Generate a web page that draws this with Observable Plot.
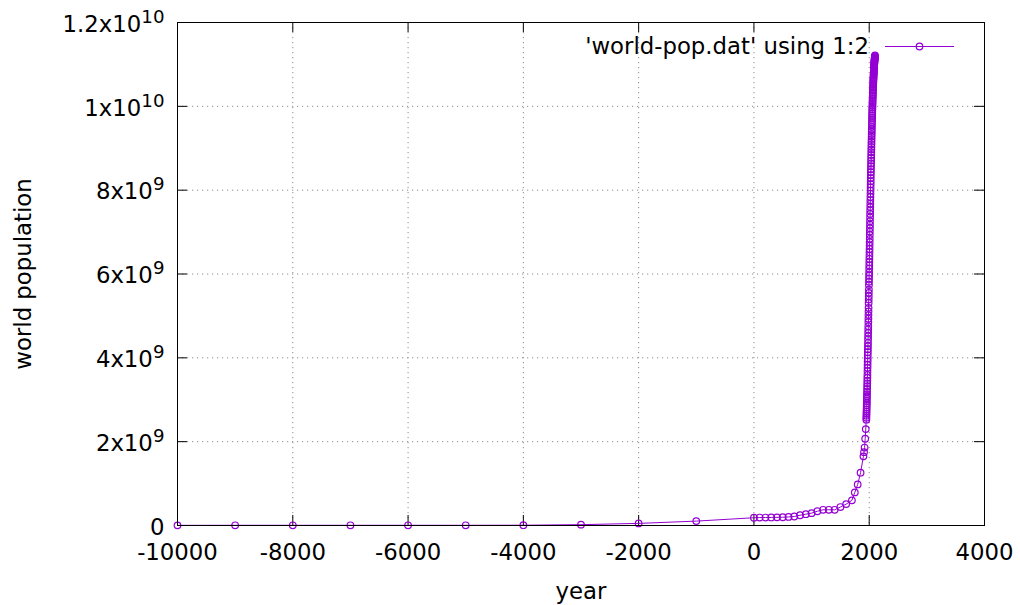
<!DOCTYPE html>
<html>
<head>
<meta charset="utf-8">
<script src="https://cdn.jsdelivr.net/npm/d3@7"></script>
<script src="https://cdn.jsdelivr.net/npm/@observablehq/plot@0.6"></script>
<style>
  body { margin: 0; background: #fff; }
  #chart svg { display: block; }
</style>
</head>
<body>
<div id="chart"></div>
<script>
// World population estimates and projections, by year.
const years = [
  -10000, -9000, -8000, -7000, -6000, -5000, -4000, -3000, -2000, -1000,
  0, 100, 200, 300, 400, 500, 600, 700, 800, 900,
  1000, 1100, 1200, 1300, 1400, 1500, 1600, 1700, 1750, 1800,
  1850, 1900, 1910, 1920, 1930, 1940,
  1950, 1951, 1952, 1953, 1954, 1955, 1956, 1957, 1958, 1959,
  1960, 1961, 1962, 1963, 1964, 1965, 1966, 1967, 1968, 1969,
  1970, 1971, 1972, 1973, 1974, 1975, 1976, 1977, 1978, 1979,
  1980, 1981, 1982, 1983, 1984, 1985, 1986, 1987, 1988, 1989,
  1990, 1991, 1992, 1993, 1994, 1995, 1996, 1997, 1998, 1999,
  2000, 2001, 2002, 2003, 2004, 2005, 2006, 2007, 2008, 2009,
  2010, 2011, 2012, 2013, 2014, 2015, 2016, 2017, 2018, 2019,
  2020, 2021, 2022, 2023, 2024, 2025, 2026, 2027, 2028, 2029,
  2030, 2031, 2032, 2033, 2034, 2035, 2036, 2037, 2038, 2039,
  2040, 2041, 2042, 2043, 2044, 2045, 2046, 2047, 2048, 2049,
  2050, 2051, 2052, 2053, 2054, 2055, 2056, 2057, 2058, 2059,
  2060, 2061, 2062, 2063, 2064, 2065, 2066, 2067, 2068, 2069,
  2070, 2071, 2072, 2073, 2074, 2075, 2076, 2077, 2078, 2079,
  2080, 2081, 2082, 2083, 2084, 2085, 2086, 2087, 2088, 2089,
  2090, 2091, 2092, 2093, 2094, 2095, 2096, 2097, 2098, 2099,
  2100
];

// Population in millions, one entry per year above.
const populationMillions = [
  4, 5, 5, 5, 5, 5, 7, 20, 50, 105,
  185, 190, 190, 192, 195, 197, 205, 215, 245, 270,
  295, 340, 375, 375, 375, 440, 510, 600, 790, 980,
  1260, 1650, 1750, 1860, 2070, 2300,
  2525, 2572, 2619, 2666, 2714, 2763, 2814, 2866, 2919, 2972,
  3029, 3081, 3135, 3196, 3259, 3323, 3390, 3456, 3523, 3592,
  3682, 3761, 3837, 3911, 3983, 4061, 4134, 4206, 4279, 4353,
  4439, 4517, 4596, 4675, 4755, 4851, 4935, 5020, 5106, 5192,
  5310, 5391, 5471, 5550, 5629, 5735, 5813, 5889, 5964, 6038,
  6127, 6204, 6281, 6358, 6436, 6520, 6598, 6677, 6757, 6838,
  6930, 7012, 7094, 7176, 7258, 7349, 7433, 7515, 7596, 7676,
  7758, 7836, 7913, 7990, 8066, 8142, 8215, 8288, 8360, 8431,
  8501, 8570, 8638, 8706, 8773, 8839, 8904, 8968, 9032, 9095,
  9157, 9218, 9278, 9338, 9396, 9454, 9510, 9565, 9619, 9672,
  9725, 9775, 9825, 9873, 9921, 9968, 10013, 10057, 10100, 10142,
  10184, 10224, 10263, 10301, 10338, 10375, 10411, 10446, 10480, 10514,
  10548, 10580, 10611, 10642, 10672, 10702, 10730, 10758, 10785, 10811,
  10837, 10862, 10886, 10910, 10933, 10956, 10977, 10997, 11017, 11036,
  11055, 11072, 11089, 11105, 11121, 11136, 11152, 11167, 11183, 11198,
  11213
];

const xTicks = [-10000, -8000, -6000, -4000, -2000, 0, 2000, 4000];
const xTickLabels = ["-10000", "-8000", "-6000", "-4000", "-2000", "0", "2000", "4000"];
const yTicks = [0, 2e9, 4e9, 6e9, 8e9, 1e10, 1.2e10];
const yTickLabels = ["0", "2x10^9", "4x10^9", "6x10^9", "8x10^9", "1x10^10", "1.2x10^10"];
const seriesLabel = "'world-pop.dat' using 1:2";
const xTitle = "year";
const yTitle = "world population";

const data = years.map((year, i) => ({year, population: populationMillions[i] * 1e6}));

// Layout
const W = 1020, H = 605;
const mL = 177, mR = 36, mT = 22, mB = 80;
const innerW = W - mL - mR, innerH = H - mT - mB;
const tickLen = 10;
const purple = "#9400d3";
const fontSize = 22.8;

// Series key drawn inside the top-right corner of the frame.
function seriesKey(index, scales, values, dims) {
  const right = dims.width - dims.marginRight;
  const top = dims.marginTop;
  const g = d3.create("svg:g").attr("font-size", fontSize);
  g.append("text")
    .attr("x", right - 115).attr("y", top + 32)
    .attr("text-anchor", "end").attr("fill", "black")
    .text(seriesLabel);
  g.append("line")
    .attr("x1", right - 99).attr("x2", right - 30)
    .attr("y1", top + 24.5).attr("y2", top + 24.5)
    .attr("stroke", purple).attr("stroke-width", 1);
  g.append("circle")
    .attr("cx", right - 64.5).attr("cy", top + 24.5).attr("r", 3.3)
    .attr("fill", "none").attr("stroke", purple).attr("stroke-width", 1.2);
  return g.node();
}

const chart = Plot.plot({
  width: W, height: H,
  marginLeft: mL, marginRight: mR, marginTop: mT, marginBottom: mB,
  style: {fontFamily: "DejaVu Sans", fontSize: fontSize + "px", color: "black", background: "white"},
  x: {domain: [-10000, 4000], ticks: xTicks, label: null},
  y: {domain: [0, 1.2e10], ticks: yTicks, label: null},
  marks: [
    Plot.gridX(xTicks, {stroke: "#8c8c8c", strokeOpacity: 1, strokeDasharray: "1.2,3.8"}),
    Plot.gridY(yTicks, {stroke: "#8c8c8c", strokeOpacity: 1, strokeDasharray: "1.2,3.8"}),
    // inward tick marks on all four sides
    Plot.ruleX(xTicks, {x: d => d, insetTop: innerH - tickLen, stroke: "black"}),
    Plot.ruleX(xTicks, {x: d => d, insetBottom: innerH - tickLen, stroke: "black"}),
    Plot.ruleY(yTicks, {y: d => d, insetRight: innerW - tickLen, stroke: "black"}),
    Plot.ruleY(yTicks, {y: d => d, insetLeft: innerW - tickLen, stroke: "black"}),
    Plot.axisX(xTicks, {tickSize: 0, tickPadding: 18.5, fontSize, label: null,
      tickFormat: d => xTickLabels[xTicks.indexOf(d)]}),
    Plot.axisY(yTicks, {tickSize: 0, tickPadding: 13, dy: 2, fontSize, label: null,
      tickFormat: d => yTickLabels[yTicks.indexOf(d)]}),
    Plot.line(data, {x: "year", y: "population", stroke: purple, strokeWidth: 1}),
    Plot.dot(data, {x: "year", y: "population", r: 3.3, stroke: purple, strokeWidth: 1.2, fill: "none"}),
    Plot.frame({stroke: "black", strokeWidth: 1}),
    Plot.text([xTitle], {frameAnchor: "bottom", lineAnchor: "bottom", dy: 73, fontSize, fill: "black"}),
    Plot.text([yTitle], {frameAnchor: "left", textAnchor: "middle", lineAnchor: "bottom", rotate: -90,
      dx: 30.5 - mL, fontSize, fill: "black"}),
    seriesKey
  ]
});

// Exponents on the y tick labels ("2x10^9") become raised tspans.
d3.select(chart).selectAll('g[aria-label="y-axis tick label"] text').each(function () {
  const s = this.textContent;
  const k = s.indexOf("^");
  if (k < 0) return;
  const t = d3.select(this);
  t.text(null);
  t.append("tspan").text(s.slice(0, k));
  t.append("tspan").attr("dy", -9).attr("font-size", fontSize * 0.8).text(s.slice(k + 1));
});

document.getElementById("chart").append(chart);
</script>
</body>
</html>
